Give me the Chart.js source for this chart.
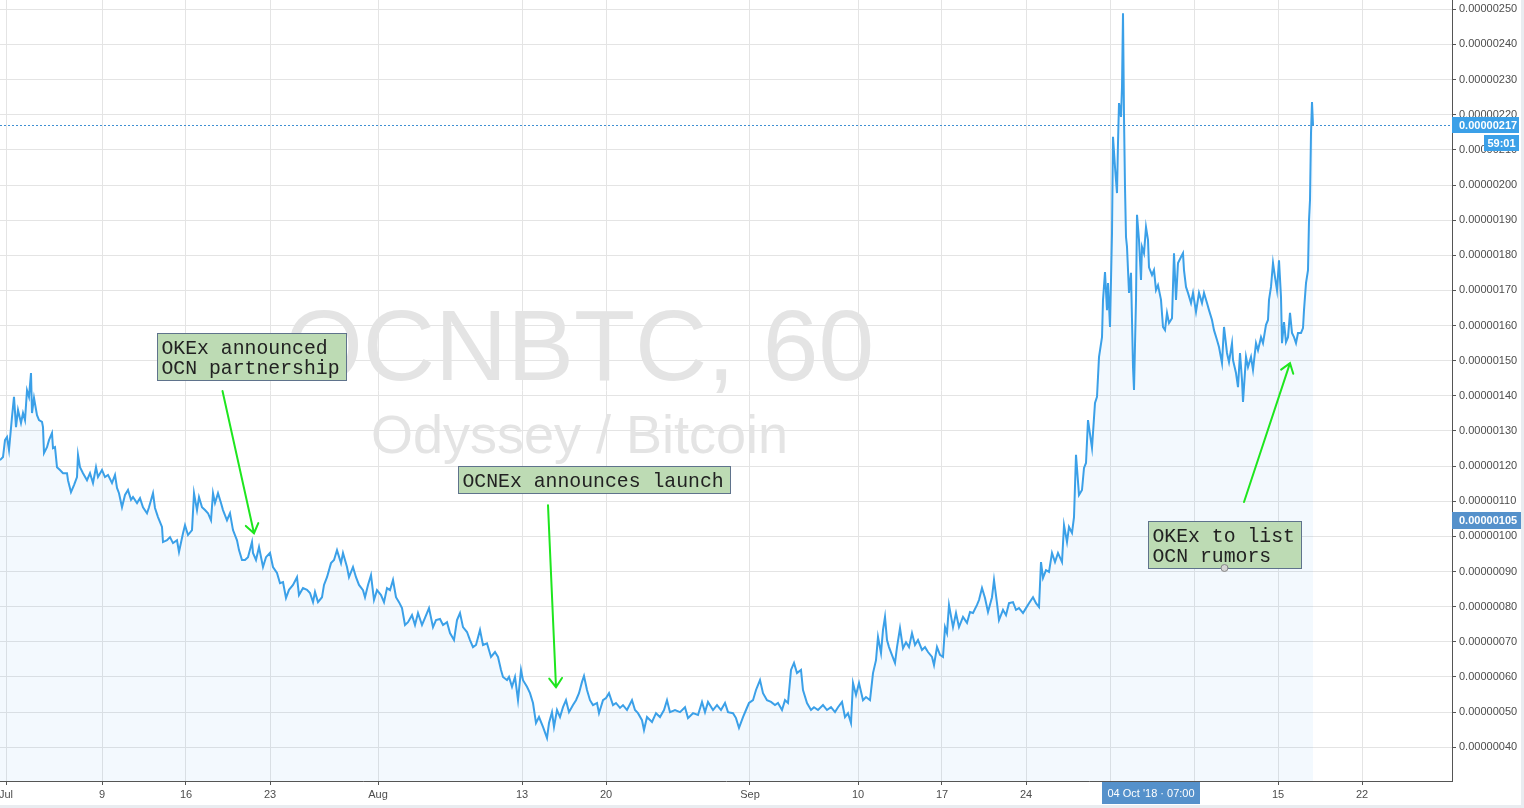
<!DOCTYPE html>
<html>
<head>
<meta charset="utf-8">
<script src="https://cdn.jsdelivr.net/npm/chart.js@4.4.0/dist/chart.umd.min.js"></script>
<style>
  html, body { margin: 0; padding: 0; background: #fff; overflow: hidden; }
  #wrap { width: 1524px; height: 808px; }
</style>
</head>
<body>
<div id="wrap"><canvas id="ocnChart" width="1524" height="808"></canvas></div>
<script>
// OCN/BTC hourly, x = hours since 1 Jul 2018 00:00, y = price in satoshi (1e-8 BTC)
const hoursA = [-12, -6, -2, 2, 6, 12, 16, 20, 24, 30, 34, 38, 42, 46, 50, 52, 56, 62, 66, 72, 74, 76, 82, 86, 92, 94, 98, 102, 108, 114, 122, 124, 130, 136, 142, 144, 148, 154, 162, 168, 174, 180, 184, 192, 198, 204, 212, 218, 222, 226, 232, 238, 244, 250, 254, 262, 268, 274, 282, 286, 294, 298, 304, 312, 314, 322, 328, 334, 342, 346, 354, 358, 364, 372, 376, 382, 386, 392, 398, 404, 410, 414, 418, 424, 430, 434, 442, 448, 454, 462, 466, 472, 478, 484, 492, 494];
const pricesA = [121.7, 122.6, 127.4, 128.3, 124.6, 134.0, 139.7, 131.1, 136.0, 132.3, 135.1, 133.1, 141.6, 139.7, 146.5, 135.1, 139.4, 134.5, 133.1, 132.6, 131.1, 123.7, 125.4, 127.4, 129.4, 125.1, 125.4, 119.7, 118.9, 118.0, 118.0, 116.0, 112.6, 114.6, 116.9, 123.2, 119.7, 118.0, 116.0, 118.0, 115.2, 119.7, 116.9, 118.9, 116.9, 117.5, 115.2, 117.5, 113.8, 112.3, 108.3, 111.8, 113.2, 110.4, 111.2, 109.5, 110.9, 108.3, 106.6, 108.3, 112.3, 108.1, 105.5, 102.7, 98.4, 98.9, 99.8, 98.1, 98.9, 95.6, 100.9, 103.2, 100.4, 101.8, 112.3, 107.5, 111.2, 108.3, 107.5, 106.6, 104.6, 112.3, 109.5, 112.3, 109.5, 107.5, 104.6, 106.6, 101.8, 98.9, 96.1, 93.3, 93.3, 94.1, 98.4, 95.3];

const hoursB = [500, 506, 514, 520, 528, 534, 542, 548, 554, 560, 566, 574, 582, 586, 594, 602, 608, 614, 618, 624, 632, 636, 642, 650, 656, 662, 670, 674, 682, 686, 694, 700, 706, 714, 718, 724, 730, 736, 742, 750, 756, 762, 768, 774, 780, 786, 792, 798, 804, 812, 818, 824, 832, 838, 846, 854, 860, 868, 874, 882, 888, 896, 902, 908, 914, 922, 928, 934, 940, 948, 954, 962, 970, 978, 984, 990, 994, 1002, 1006, 1012, 1018, 1024, 1030, 1034, 1042, 1048, 1054, 1060, 1066];
const pricesB = [93.3, 97.0, 91.3, 94.1, 95.3, 91.3, 89.6, 86.7, 87.0, 82.5, 84.8, 86.2, 88.4, 83.3, 85.3, 84.8, 83.9, 81.3, 84.2, 81.3, 82.7, 86.2, 88.4, 92.4, 93.3, 96.1, 92.4, 95.3, 91.3, 88.4, 91.3, 88.4, 86.2, 84.7, 82.7, 86.2, 89.0, 81.9, 84.7, 83.3, 81.3, 85.3, 84.7, 87.6, 82.7, 81.3, 79.6, 74.8, 75.6, 77.6, 74.8, 78.2, 74.8, 76.8, 79.6, 74.2, 76.2, 76.5, 74.8, 75.6, 72.5, 70.5, 76.2, 78.2, 74.2, 72.8, 70.5, 68.5, 69.1, 73.4, 69.1, 69.6, 65.7, 67.1, 65.7, 62.0, 60.0, 59.1, 60.0, 57.2, 60.0, 53.4, 62.0, 59.1, 57.2, 55.4, 52.6, 46.9, 48.6];

const hoursC = [1074, 1082, 1086, 1092, 1096, 1102, 1108, 1114, 1120, 1126, 1134, 1140, 1146, 1152, 1156, 1162, 1168, 1174, 1182, 1186, 1194, 1200, 1206, 1214, 1220, 1228, 1234, 1242, 1252, 1258, 1264, 1272, 1276, 1282, 1292, 1300, 1308, 1316, 1322, 1328, 1338, 1348, 1358, 1364, 1374, 1384, 1392, 1398, 1404, 1414, 1422, 1430, 1438, 1444, 1454, 1460, 1466, 1474, 1480, 1486, 1494, 1500, 1508, 1514, 1522, 1530, 1538, 1544, 1552, 1558, 1564, 1570, 1576, 1582, 1590, 1594, 1602, 1610, 1616, 1624, 1634, 1642, 1650, 1658, 1664, 1672, 1678, 1684, 1690, 1694, 1700, 1706, 1714, 1720, 1728, 1734];
const pricesC = [45.8, 42.6, 46.9, 50.0, 45.8, 50.6, 48.6, 51.4, 53.4, 50.0, 52.0, 53.4, 55.4, 58.6, 60.3, 56.3, 53.4, 52.0, 52.6, 49.7, 53.4, 54.0, 55.4, 52.0, 52.6, 51.2, 52.0, 50.6, 53.4, 50.6, 49.7, 47.7, 44.9, 48.6, 47.2, 49.7, 48.6, 50.6, 53.4, 50.0, 50.6, 50.0, 51.4, 48.3, 49.7, 49.2, 52.9, 50.0, 52.9, 50.6, 52.0, 50.6, 52.6, 50.0, 49.7, 48.3, 45.5, 48.6, 50.6, 52.6, 53.4, 56.3, 59.1, 55.4, 53.4, 52.9, 52.0, 52.6, 50.6, 53.4, 52.6, 62.0, 64.0, 61.1, 62.0, 56.3, 52.6, 50.6, 51.4, 50.6, 52.0, 50.6, 51.4, 50.0, 51.4, 52.9, 48.6, 49.7, 46.9, 58.3, 54.9, 58.3, 53.4, 54.3, 53.4, 61.1];

const hoursD = [1740, 1744, 1750, 1754, 1758, 1762, 1766, 1772, 1778, 1782, 1788, 1794, 1800, 1806, 1812, 1818, 1824, 1832, 1838, 1844, 1852, 1856, 1862, 1868, 1874, 1878, 1882, 1886, 1894, 1900, 1906, 1914, 1922, 1928, 1934, 1942, 1946, 1952, 1958, 1964, 1972, 1976, 1982, 1986, 1994, 2000, 2006, 2014, 2020, 2026, 2034, 2040, 2046, 2054, 2060, 2066, 2070, 2074, 2080, 2086, 2092, 2098, 2104, 2112, 2116, 2122, 2126, 2132, 2136, 2140, 2146, 2152, 2156, 2160, 2164, 2172, 2178, 2182, 2186, 2192, 2194, 2198, 2202, 2204, 2208];
const pricesD = [64.8, 71.4, 66.8, 73.4, 77.1, 70.5, 68.5, 66.2, 64.0, 68.5, 73.9, 68.2, 69.9, 68.5, 72.5, 69.1, 70.5, 67.7, 68.5, 67.1, 65.7, 63.4, 68.5, 66.3, 65.7, 74.2, 72.5, 80.5, 74.2, 78.2, 74.2, 77.1, 75.4, 78.5, 78.2, 80.5, 81.9, 85.3, 82.5, 78.5, 82.7, 87.6, 81.0, 76.2, 79.1, 77.6, 81.0, 81.3, 79.1, 79.6, 78.2, 79.6, 81.0, 82.7, 81.0, 79.9, 92.7, 88.2, 90.4, 89.9, 95.3, 92.7, 95.3, 92.7, 103.2, 98.4, 102.7, 101.0, 105.5, 123.2, 111.8, 113.2, 119.5, 120.9, 133.1, 125.2, 138.0, 139.7, 151.0, 156.7, 167.3, 175.2, 164.4, 172.1, 159.6];

const hoursE = [2212, 2214, 2218, 2222, 2224, 2226, 2230, 2232, 2234, 2236, 2238, 2240, 2242, 2246, 2250, 2254, 2256, 2260, 2262, 2266, 2270, 2272, 2276, 2280, 2284, 2286, 2292, 2296, 2300, 2304, 2310, 2314, 2318, 2322, 2326, 2332, 2336, 2340, 2344, 2350, 2354, 2356, 2360, 2364, 2370, 2374, 2380, 2386, 2392, 2396, 2402, 2406, 2412, 2416, 2422, 2426, 2432, 2436, 2442, 2446, 2452, 2454, 2460, 2464, 2468, 2472, 2474, 2480, 2484, 2490, 2494, 2500, 2504, 2510, 2514, 2520, 2524, 2526, 2530, 2534, 2538, 2542, 2546, 2550, 2552, 2556, 2560, 2564, 2568, 2572, 2576, 2580, 2584, 2590, 2594, 2596, 2600, 2604, 2606, 2608, 2610, 2612, 2614];
const pricesE = [186.3, 213.7, 205.1, 197.7, 212.0, 223.3, 219.4, 227.9, 248.9, 219.4, 199.4, 185.2, 182.4, 169.3, 175.0, 148.2, 141.7, 167.3, 191.5, 184.4, 173.0, 182.4, 180.6, 188.0, 184.4, 176.6, 174.4, 175.8, 170.1, 171.5, 167.3, 159.6, 158.7, 163.6, 160.7, 162.1, 180.6, 167.3, 177.8, 179.5, 180.6, 175.8, 171.0, 169.3, 166.4, 169.3, 163.9, 169.3, 166.4, 169.3, 166.4, 164.4, 161.6, 158.7, 155.9, 153.9, 149.3, 159.6, 152.2, 149.6, 155.0, 150.2, 146.5, 142.5, 152.2, 144.5, 138.3, 151.1, 148.2, 151.1, 147.4, 155.0, 153.0, 156.7, 155.0, 160.2, 161.6, 167.3, 171.0, 177.8, 173.8, 170.1, 178.6, 168.1, 155.0, 161.0, 155.3, 156.7, 163.6, 157.9, 156.7, 155.0, 157.9, 157.9, 159.3, 164.4, 172.1, 175.8, 190.0, 195.7, 214.8, 223.6, 217.0];

// axes
const tickHours = [0, 192, 360, 528, 744, 1032, 1200, 1488, 1704, 1872, 2040, 2208, 2376, 2544, 2712];
const tickLabels = ['Jul', '9', '16', '23', 'Aug', '13', '20', 'Sep', '10', '17', '24', 'Oct', '8', '15', '22'];
const priceTicks = [40, 50, 60, 70, 80, 90, 100, 110, 120, 130, 140, 150, 160, 170, 180, 190, 200, 210, 220, 230, 240, 250];

const lastPrice = 217;
const countdown = '59:01';
const cursorPrice = 105;
const cursorHour = 2287;
const cursorLabel = "04 Oct '18 \u00b7 07:00";

// annotations (anchor = top-left of the box, in hours / satoshi)
const notes = [
    { lines: ['OKEx announced', 'OCN partnership'], at: [302, 157.8] },
    { lines: ['OCNEx announces launch'], at: [904, 120.0] },
    { lines: ['OKEx to list', 'OCN rumors'], at: [2283, 104.5], dot: true },
];
const arrows = [
    { from: [433, 141.4], to: [496, 100.9] },
    { from: [1084, 108.9], to: [1100, 57.1] },
    { from: [2476, 109.8], to: [2568, 149.3] },
];

const allHours = [...hoursA, ...hoursB, ...hoursC, ...hoursD, ...hoursE];
const allPrices = [...pricesA, ...pricesB, ...pricesC, ...pricesD, ...pricesE];
const points = allHours.map((h, i) => ({ x: h, y: allPrices[i] }));

const SANS = '"Liberation Sans", Arial, sans-serif';
const fmtPrice = v => '0.' + String(Math.round(v)).padStart(8, '0');

function drawArrow(ctx, x1, y1, x2, y2) {
    const ang = Math.atan2(y2 - y1, x2 - x1), len = 11, spread = 0.62;
    ctx.beginPath();
    ctx.moveTo(x1, y1);
    ctx.lineTo(x2, y2);
    ctx.moveTo(x2 - len * Math.cos(ang - spread), y2 - len * Math.sin(ang - spread));
    ctx.lineTo(x2, y2);
    ctx.lineTo(x2 - len * Math.cos(ang + spread), y2 - len * Math.sin(ang + spread));
    ctx.stroke();
}

function tag(ctx, text, x, y, w, h, bg, align, bold) {
    ctx.fillStyle = bg;
    ctx.fillRect(x, y, w, h);
    ctx.fillStyle = '#fff';
    ctx.font = (bold ? 'bold ' : '') + '11px ' + SANS;
    ctx.textBaseline = 'middle';
    ctx.textAlign = align;
    ctx.fillText(text, align === 'center' ? x + w / 2 : x + 7, y + h / 2 + 0.5);
}

const decor = {
    id: 'decor',
    beforeDatasetsDraw(chart) {
        const { ctx, chartArea: a } = chart;
        ctx.save();
        ctx.beginPath();
        ctx.rect(a.left, a.top, a.right - a.left, a.bottom - a.top);
        ctx.clip();
        ctx.fillStyle = '#e4e4e4';
        ctx.textAlign = 'center';
        ctx.textBaseline = 'alphabetic';
        ctx.font = '100px ' + SANS;
        ctx.fillText('OCNBTC, 60', 579.5, 380);
        ctx.font = '54px ' + SANS;
        ctx.fillText('Odyssey / Bitcoin', 579.5, 453);
        ctx.restore();
    },
    afterDraw(chart) {
        const { ctx, chartArea: a } = chart;
        const xs = chart.scales.x, ys = chart.scales.y;
        ctx.save();

        // last price line
        const yl = Math.round(ys.getPixelForValue(lastPrice)) + 0.5;
        ctx.strokeStyle = '#3f8fd2';
        ctx.lineWidth = 1;
        ctx.setLineDash([2, 2]);
        ctx.beginPath();
        ctx.moveTo(a.left, yl);
        ctx.lineTo(a.right, yl);
        ctx.stroke();
        ctx.setLineDash([]);

        // arrows
        ctx.strokeStyle = '#1ee61e';
        ctx.lineWidth = 2;
        ctx.lineCap = 'round';
        arrows.forEach(ar => drawArrow(ctx,
            xs.getPixelForValue(ar.from[0]), ys.getPixelForValue(ar.from[1]),
            xs.getPixelForValue(ar.to[0]), ys.getPixelForValue(ar.to[1])));

        // note boxes
        ctx.font = '19.8px "Liberation Mono", "Courier New", monospace';
        notes.forEach(n => {
            const w = Math.round(Math.max(...n.lines.map(t => ctx.measureText(t).width)) + 11);
            const h = 7 + 20 * n.lines.length;
            const x = Math.round(xs.getPixelForValue(n.at[0]));
            const y = Math.round(ys.getPixelForValue(n.at[1]));
            ctx.fillStyle = '#bddbb4';
            ctx.fillRect(x, y, w, h);
            ctx.strokeStyle = '#5f738c';
            ctx.lineWidth = 1;
            ctx.strokeRect(x + 0.5, y + 0.5, w, h);
            ctx.fillStyle = '#222';
            ctx.textAlign = 'left';
            ctx.textBaseline = 'alphabetic';
            n.lines.forEach((t, i) => ctx.fillText(t, x + 4.5, y + 21 + 20 * i));
            if (n.dot) {
                ctx.beginPath();
                ctx.arc(x + w / 2, y + h, 3.5, 0, Math.PI * 2);
                ctx.fillStyle = '#d4d4d4';
                ctx.fill();
                ctx.strokeStyle = '#888';
                ctx.stroke();
            }
        });

        // price scale tags
        const yc = ys.getPixelForValue(lastPrice);
        tag(ctx, fmtPrice(lastPrice), a.right, Math.round(yc) - 8, 67, 16, '#3ba0e8', 'left', true);
        tag(ctx, countdown, a.right + 32, Math.round(yc) + 10, 35, 16, '#3ba0e8', 'center', true);
        const yp = ys.getPixelForValue(cursorPrice);
        tag(ctx, fmtPrice(cursorPrice), a.right, Math.round(yp) - 7, 70, 17, '#5591cb', 'left', true);

        // time scale tag
        const xc = xs.getPixelForValue(cursorHour);
        tag(ctx, cursorLabel, Math.round(xc) - 48, a.bottom + 1, 98, 22, '#5591cb', 'center', false);

        // outer frame
        ctx.fillStyle = '#e9ecf0';
        ctx.fillRect(1521, 0, 3, 808);
        ctx.fillRect(0, 805, 1524, 3);
        ctx.restore();
    }
};

new Chart(document.getElementById('ocnChart'), {
    type: 'line',
    data: {
        datasets: [{
            label: 'OCNBTC',
            data: points,
            borderColor: '#3ba0e8',
            borderWidth: 2,
            backgroundColor: 'rgba(59,160,232,0.06)',
            fill: 'start',
            pointRadius: 0,
            tension: 0,
        }]
    },
    options: {
        responsive: false,
        animation: false,
        layout: { padding: 0 },
        plugins: { legend: { display: false }, tooltip: { enabled: false } },
        scales: {
            x: {
                type: 'linear',
                position: 'bottom',
                min: -12,
                max: 2892,
                afterBuildTicks: s => { s.ticks = tickHours.map(v => ({ value: v })); },
                afterFit: s => { s.height = 27; s.paddingLeft = 0; s.paddingRight = 0; },
                ticks: {
                    autoSkip: false,
                    maxRotation: 0,
                    padding: 3,
                    color: '#4d4d4d',
                    font: { family: SANS, size: 11 },
                    callback: (v, i) => tickLabels[i],
                },
                grid: { color: '#e4e4e4', tickColor: '#555', tickLength: 4 },
                border: { color: '#555' },
            },
            y: {
                position: 'right',
                min: 30.4,
                max: 252.65,
                afterBuildTicks: s => { s.ticks = priceTicks.map(v => ({ value: v })); },
                afterFit: s => { s.width = 72; s.paddingTop = 0; s.paddingBottom = 0; },
                ticks: {
                    autoSkip: false,
                    padding: 3,
                    color: '#4d4d4d',
                    font: { family: SANS, size: 11 },
                    callback: v => fmtPrice(v),
                },
                grid: { color: '#e4e4e4', tickColor: '#555', tickLength: 4 },
                border: { color: '#555' },
            }
        }
    },
    plugins: [decor]
});
</script>
</body>
</html>
